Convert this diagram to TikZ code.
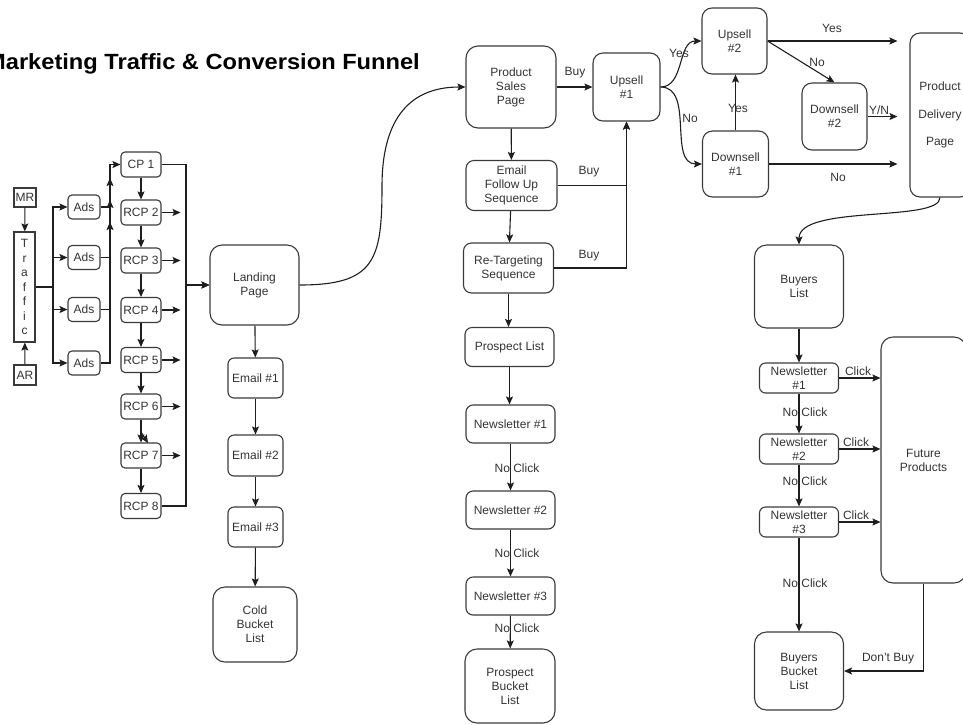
\documentclass[tikz,border=0pt]{standalone}
\usepackage{fontspec}
\usepackage{graphicx}
\setmainfont{Liberation Sans}
\usetikzlibrary{arrows.meta}
\definecolor{txt}{HTML}{333333}
\definecolor{ln}{HTML}{1E1E1E}
\definecolor{bx}{HTML}{3A3A3A}
\begin{document}
\begin{tikzpicture}[x=1pt,y=-1pt,
  every node/.style={font=\fontsize{12}{14}\selectfont, text=txt},
  nd/.style n args={3}{draw=bx, line width=1.1pt, align=center, inner sep=0pt,
     minimum width=#1, minimum height=#2, rounded corners=#3},
  arr/.style={draw=ln, line width=1.1pt, -{Stealth[length=8pt,width=7pt,inset=1.5pt]}},
  lab/.style={inner sep=0pt}
]
\useasboundingbox (0,0) rectangle (963,724);
\clip (0,0) rectangle (963,724);

% title
\node[anchor=base east, inner sep=0pt, text=black] (title) at (420,69)
  {\scalebox{1.075}[1]{\fontsize{22}{26}\selectfont\bfseries Marketing Traffic \& Conversion Funnel}};

% left column
\node[nd={22}{19}{0}] (mr) at (25,197.5) {MR};
\node[nd={21}{110}{0}, font=\fontsize{12}{14.5}\selectfont] (traffic) at (24.5,287) {T\\r\\a\\f\\f\\i\\c};
\node[nd={22}{20}{0}] (ar) at (25,375) {AR};
\node[nd={32}{24}{4}] (ads1) at (84,207) {Ads};
\node[nd={32}{24}{4}] (ads2) at (84,257.5) {Ads};
\node[nd={32}{24}{4}] (ads3) at (84,309.5) {Ads};
\node[nd={32}{24}{4}] (ads4) at (84,363) {Ads};

\node[nd={40}{25}{4}] (cp1) at (141,164.5) {CP 1};
\node[nd={40}{25}{4}] (rcp2) at (141,212.5) {RCP 2};
\node[nd={40}{25}{4}] (rcp3) at (141,260.5) {RCP 3};
\node[nd={40}{25}{4}] (rcp4) at (141,310) {RCP 4};
\node[nd={40}{25}{4}] (rcp5) at (141,360) {RCP 5};
\node[nd={40}{25}{4}] (rcp6) at (141,406.5) {RCP 6};
\node[nd={40}{25}{4}] (rcp7) at (141,455.5) {RCP 7};
\node[nd={40}{25}{4}] (rcp8) at (141,506) {RCP 8};

\node[nd={89}{80}{12}] (lp) at (254.5,285) {Landing\\Page};
\node[nd={55}{40}{6}] (em1) at (255.5,378) {Email \#1};
\node[nd={55}{41}{6}] (em2) at (255.5,455.5) {Email \#2};
\node[nd={55}{40}{6}] (em3) at (255.5,527) {Email \#3};
\node[nd={84}{75}{12}] (cold) at (255,624.5) {Cold\\Bucket\\List};

% middle column
\node[nd={90}{82}{12}] (psp) at (511,87) {Product\\Sales\\Page};
\node[nd={91}{50}{8}] (efus) at (511.5,185.5) {Email\\Follow Up\\Sequence};
\node[nd={90}{50}{8}] (rts) at (508.5,268) {Re-Targeting\\Sequence};
\node[nd={89}{39}{7}] (pl) at (509.5,347) {Prospect List};
\node[nd={89}{38}{7}] (nl1m) at (510.5,424) {Newsletter \#1};
\node[nd={89}{38}{7}] (nl2m) at (510.5,510) {Newsletter \#2};
\node[nd={89}{38}{7}] (nl3m) at (510.5,596) {Newsletter \#3};
\node[nd={90}{74}{12}] (pbl) at (510,686) {Prospect\\Bucket\\List};

% right part
\node[nd={67}{68}{10}] (up1) at (626.5,87) {Upsell\\\#1};
\node[nd={65}{66}{10}] (up2) at (734.5,41) {Upsell\\\#2};
\node[nd={66}{66}{10}] (dn1) at (735.5,164) {Downsell\\\#1};
\node[nd={65}{67}{10}] (dn2) at (834.5,116.5) {Downsell\\\#2};
\node[nd={60}{164}{10}, font=\fontsize{12}{27.5}\selectfont] (pdp) at (940,115) {Product\\Delivery\\Page};

\node[nd={89}{83}{12}] (bl) at (799,286.5) {Buyers\\List};
\node[nd={79}{30}{6}] (nl1r) at (799,378) {Newsletter\\\#1};
\node[nd={79}{30}{6}] (nl2r) at (799,449) {Newsletter\\\#2};
\node[nd={79}{30}{6}] (nl3r) at (799,522) {Newsletter\\\#3};
\node[nd={85}{246}{12}] (fp) at (923.5,460) {Future\\Products};
\node[nd={89}{78}{12}] (bbl) at (799,671) {Buyers\\Bucket\\List};

% ---- connectors: left
\draw[arr] (mr) -- (traffic);
\draw[arr] (ar) -- (traffic);
\coordinate (tj) at (53,287);
\draw[arr] (traffic.east) -- (tj) |- (ads1.west);
\draw[arr] (tj) |- (ads2.west);
\draw[arr] (tj) |- (ads3.west);
\draw[arr] (tj) |- (ads4.west);
\coordinate (a2e) at (110,178);
\coordinate (a3e) at (110,200);
\coordinate (a4e) at (110,222);
\draw[arr] (ads1.east) -- (110,207) |- (cp1.west);
\draw[arr] (ads2.east) -| (a2e);
\draw[arr] (ads3.east) -| (a3e);
\draw[arr] (ads4.east) -| (a4e);

\draw[arr] (cp1) -- (rcp2);
\draw[arr] (rcp2) -- (rcp3);
\draw[arr] (rcp3) -- (rcp4);
\draw[arr] (rcp4) -- (rcp5);
\draw[arr] (rcp5) -- (rcp6);
\draw[arr] (rcp6) -- (rcp7);
\coordinate (r6s) at (141,432);
\coordinate (r6x) at (148,443);
\draw[arr] (r6s) -- (r6x);
\draw[arr] (rcp7) -- (rcp8);
\foreach \n in {rcp2,rcp3,rcp4,rcp5,rcp6,rcp7}
  \draw[arr] (\n.east) -- ++(19,0);

\draw[arr] (cp1.east) -- (186,164.5) |- (lp.west);
\draw[arr] (rcp8.east) -- (186,506) |- (lp.west);

\draw[arr] (lp) -- (em1);
\draw[arr] (em1) -- (em2);
\draw[arr] (em2) -- (em3);
\draw[arr] (em3) -- (cold);

\draw[arr] (lp.east) .. controls (375,285) and (382,260) .. (382,186)
   .. controls (382,125) and (405,87) .. (psp.west);

% ---- middle
\draw[arr] (psp) -- (up1);
\node[lab] at (575,73) {Buy};
\draw[arr] (psp) -- (efus);
\draw[arr] (efus) -- (rts);
\draw[arr] (efus.east) -| (up1.south);
\draw[arr] (rts.east) -| (up1.south);
\node[lab] at (589,172) {Buy};
\node[lab] at (589,256) {Buy};
\draw[arr] (rts) -- (rts |- pl.north);
\draw[arr] (pl) -- (pl |- nl1m.north);
\draw[arr] (nl1m) -- (nl2m);
\draw[arr] (nl2m) -- (nl3m);
\draw[arr] (nl3m) -- (pbl);
\node[lab] at (517,468) {No Click};
\node[lab] at (517,553) {No Click};
\node[lab] at (517,628) {No Click};

% ---- upsells
\draw[arr] (up1.east) to[out=0,in=180] (up2.west);
\node[lab] at (679,53) {Yes};
\draw[arr] (up1.east) to[out=0,in=180] (dn1.west);
\node[lab] at (690,118) {No};
\draw[arr] (dn1) -- (dn1 |- up2.south);
\node[lab] at (738,108) {Yes};
\draw[arr, shorten >=12pt] (up2.east) -- (up2.east -| pdp.west);
\node[lab] at (832,28) {Yes};
\draw[arr] (up2.east) -- (dn2.north);
\node[lab] at (817,62) {No};
\draw[arr, shorten >=12pt] (dn2.east) -- (dn2.east -| pdp.west);
\node[lab] at (879,110) {Y/N};
\draw[arr, shorten >=12pt] (dn1.east) -- (dn1.east -| pdp.west);
\node[lab] at (838,177) {No};

\draw[arr] (pdp.south) .. controls +(0,25) and +(0,-40) .. (bl.north);

% ---- buyers
\draw[arr] (bl) -- (nl1r);
\draw[arr] (nl1r) -- (nl2r);
\draw[arr] (nl2r) -- (nl3r);
\draw[arr] (nl3r) -- (bbl);
\node[lab] at (805,412) {No Click};
\node[lab] at (805,481) {No Click};
\node[lab] at (805,583) {No Click};
\draw[arr] (nl1r.east) -- (nl1r.east -| fp.west);
\draw[arr] (nl2r.east) -- (nl2r.east -| fp.west);
\draw[arr] (nl3r.east) -- (nl3r.east -| fp.west);
\node[lab] at (858,371) {Click};
\node[lab] at (856,442) {Click};
\node[lab] at (856,515) {Click};
\draw[arr] (fp.south) |- (bbl.east);
\node[lab] at (888,659) {Don't Buy};
\end{tikzpicture}
\end{document}
